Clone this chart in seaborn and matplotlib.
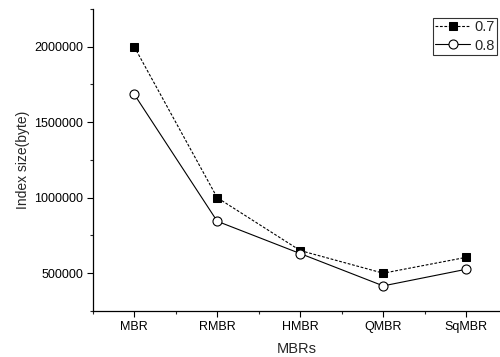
import numpy as np
import pandas as pd
import seaborn as sns
import matplotlib.pyplot as plt

categories = ['MBR', 'RMBR', 'HMBR', 'QMBR', 'SqMBR']
size_07 = [2000000, 1000000, 650000, 500000, 605000]
size_08 = [1685000, 844000, 630000, 416000, 526000]

sns.set_style('ticks')
plt.rcParams['font.family'] = ['Liberation Sans', 'DejaVu Sans']

fig = plt.figure(figsize=(5, 3.57), dpi=100)
ax = fig.add_axes([0.1854, 0.129, 0.8146, 0.846])

pos = np.arange(len(categories))
df07 = pd.DataFrame({'x': pos, 'y': size_07})
df08 = pd.DataFrame({'x': pos, 'y': size_08})

sns.lineplot(data=df07, x='x', y='y', ax=ax, color='black', linewidth=0.8,
             linestyle=(0, (2.5, 1.5)), marker='s', markersize=5.5,
             markerfacecolor='black', markeredgecolor='black', label='0.7')
sns.lineplot(data=df08, x='x', y='y', ax=ax, color='black', linewidth=0.8,
             marker='o', markersize=6.5, markerfacecolor='white',
             markeredgecolor='black', markeredgewidth=0.8, label='0.8')

ax.set_xlim(-0.5, 4.407)
ax.set_ylim(250000, 2250000)
ax.set_xticks(pos)
ax.set_xticklabels(categories)
ax.xaxis.set_minor_locator(plt.FixedLocator([-0.5, 0.5, 1.5, 2.5, 3.5]))
ax.set_yticks([500000, 1000000, 1500000, 2000000])
ax.set_yticklabels(['500000', '1000000', '1500000', '2000000'])
ax.yaxis.set_minor_locator(plt.FixedLocator([250000, 750000, 1250000, 1750000, 2250000]))
ax.tick_params(axis='both', which='major', direction='out', length=4, width=0.8,
               labelsize=9, colors='black', pad=3)
ax.tick_params(axis='both', which='minor', direction='out', length=2.5, width=0.8)

ax.set_xlabel('MBRs', fontsize=10.5, labelpad=7)
ax.set_ylabel('Index size(byte)', fontsize=10, labelpad=3)

for side in ['top', 'right']:
    ax.spines[side].set_visible(False)
for side in ['left', 'bottom']:
    ax.spines[side].set_linewidth(0.9)
    ax.spines[side].set_color('black')

leg = ax.legend(loc='upper right', bbox_to_anchor=(0.993, 0.970), fontsize=10.5,
                frameon=True, fancybox=False, handlelength=2.4, handletextpad=0.3,
                borderpad=0.15, labelspacing=0.3, borderaxespad=0)
leg.get_frame().set_edgecolor('black')
leg.get_frame().set_linewidth(0.8)

fig.savefig('out.png', dpi=100)
